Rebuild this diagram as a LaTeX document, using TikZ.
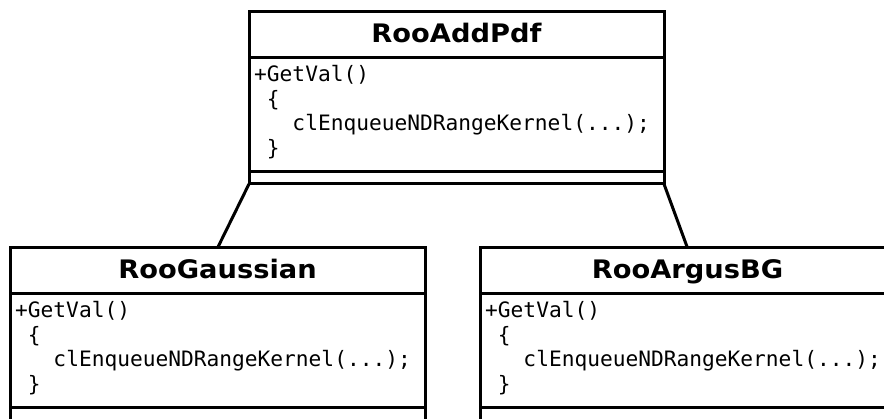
\documentclass[tikz,border=0pt]{standalone}
\usepackage{fontspec}
\setmainfont{DejaVu Sans}
\setmonofont{DejaVu Sans Mono}
\newfontfamily\titlefont[FakeStretch=1.07]{DejaVu Sans}
\newcommand\mspc{\hphantom{x}}
\tikzset{
  umlbox/.style={draw=black, line width=3pt, minimum width=415pt, anchor=north west, inner sep=0pt, outer sep=0pt},
  titletext/.style={font=\titlefont\fontsize{25.5}{30}\selectfont\bfseries, inner sep=0pt, anchor=base},
  codetext/.style={font=\fontsize{21.2}{25}\selectfont\ttfamily, inner sep=0pt, anchor=base west},
  sepline/.style={draw=black, line width=3pt},
  connector/.style={draw=black, line width=3pt}
}
\newcommand\umlclass[4]{% name, north-west corner, height, title
  \node[umlbox, minimum height=#3] (#1) at (#2) {};
  \coordinate (#1-a) at ([yshift=-45.5pt]#1.north west);
  \coordinate (#1-b) at ([yshift=-45.5pt]#1.north east);
  \coordinate (#1-c) at ([yshift=-159.5pt]#1.north west);
  \coordinate (#1-d) at ([yshift=-159.5pt]#1.north east);
  \draw[sepline] (#1-a) -- (#1-b);
  \draw[sepline] (#1-c) -- (#1-d);
  \node[titletext] (#1-title) at ([yshift=-31pt]#1.north) {#4};
  \node[codetext] (#1-l1) at ([xshift=5pt,yshift=-69.5pt]#1.north west) {+GetVal()};
  \node[codetext] (#1-l2) at ([xshift=5pt,yshift=-94.2pt]#1.north west) {\mspc\{};
  \node[codetext] (#1-l3) at ([xshift=5pt,yshift=-118.9pt]#1.north west) {\mspc\mspc\mspc clEnqueueNDRangeKernel(...);};
  \node[codetext] (#1-l4) at ([xshift=5pt,yshift=-143.6pt]#1.north west) {\mspc\}};
}
\begin{document}
\begin{tikzpicture}[x=1pt,y=-1pt]
  \useasboundingbox (0,0) rectangle (884,419);
  \clip (0,0) rectangle (884,419);
  \fill[white] (0,0) rectangle (884,419);
  \umlclass{top}{249,12}{172pt}{RooAddPdf}
  \umlclass{left}{10,248}{185pt}{RooGaussian}
  \umlclass{right}{480,248}{185pt}{RooArgusBG}
  \draw[connector] (top.south west) -- (left.north);
  \draw[connector] (top.south east) -- (right.north);
\end{tikzpicture}
\end{document}
